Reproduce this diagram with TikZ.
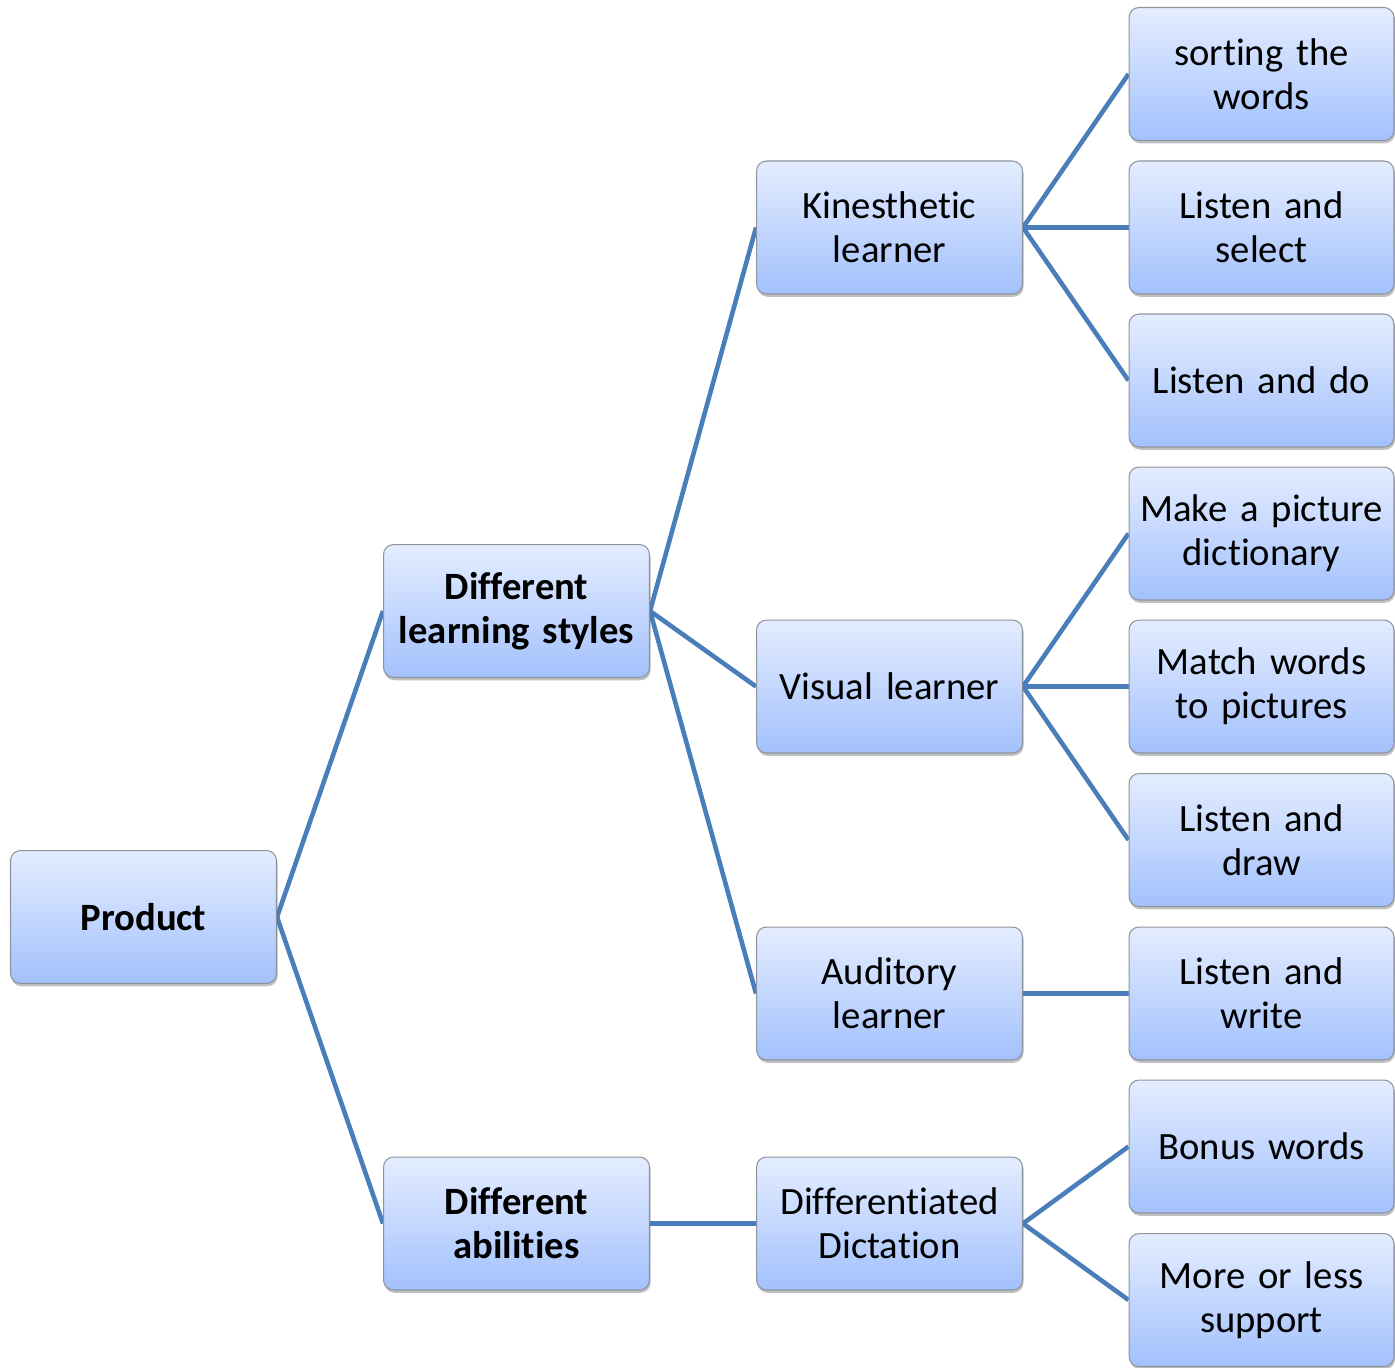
\documentclass[tikz,border=0pt]{standalone}
\usepackage{fontspec}
\setmainfont{Carlito}[Ligatures={NoCommon}]
\usetikzlibrary{shadows,backgrounds}
\definecolor{boxtop}{HTML}{E4EDFF}
\definecolor{boxbot}{HTML}{A3C1FD}
\definecolor{boxline}{HTML}{8E949C}
\definecolor{linkblue}{HTML}{4A7EBB}
\begin{document}
\begin{tikzpicture}[x=0.02cm,y=-0.02cm,
  card/.style={rectangle, rounded corners=0.2cm, draw=boxline, line width=0.6pt,
    top color=boxtop, bottom color=boxbot,
    drop shadow={shadow xshift=0.6pt, shadow yshift=-1.6pt, opacity=0.35, fill=black!70},
    minimum width=5.32cm, minimum height=2.66cm, text width=5.2cm, align=center,
    inner sep=0pt, font=\fontsize{22}{25}\selectfont},
  leaf/.style={card, minimum width=5.3cm},
  hcard/.style={card, font=\fontsize{22}{25}\selectfont\bfseries},
  link/.style={draw=linkblue, line width=2.6pt}]
\useasboundingbox (0,0) rectangle (1395,1367);
% root and main branches
\node[hcard] (prod) at (143.5,917) {Product};
\node[hcard] (styles) at (516.5,611) {Different\\learning styles};
\node[hcard] (abil) at (516.5,1223.5) {Different\\abilities};
% learner types
\node[card] (kin) at (889.5,227.5) {Kinesthetic\\learner};
\node[card] (vis) at (889.5,686.5) {Visual learner};
\node[card] (aud) at (889.5,993.5) {Auditory\\learner};
\node[card] (dict) at (889.5,1223.5) {Differentiated\\Dictation};
% activities
\node[leaf] (l1) at (1261.5,74) {sorting the\\words};
\node[leaf] (l2) at (1261.5,227.5) {Listen and\\select};
\node[leaf] (l3) at (1261.5,380.5) {Listen and do};
\node[leaf] (l4) at (1261.5,533.5) {Make a picture\\dictionary};
\node[leaf] (l5) at (1261.5,686.5) {Match words\\to pictures};
\node[leaf] (l6) at (1261.5,840) {Listen and\\draw};
\node[leaf] (l7) at (1261.5,993.5) {Listen and\\write};
\node[leaf] (l8) at (1261.5,1146.5) {Bonus words};
\node[leaf] (l9) at (1261.5,1300) {More or less\\support};
% connectors
\begin{scope}[on background layer]
\foreach \a/\b in {prod/styles, prod/abil,
  styles/kin, styles/vis, styles/aud, abil/dict,
  kin/l1, kin/l2, kin/l3, vis/l4, vis/l5, vis/l6, aud/l7, dict/l8, dict/l9}
  \draw[link] (\a.east) -- (\b.west);
\end{scope}
\end{tikzpicture}
\end{document}
